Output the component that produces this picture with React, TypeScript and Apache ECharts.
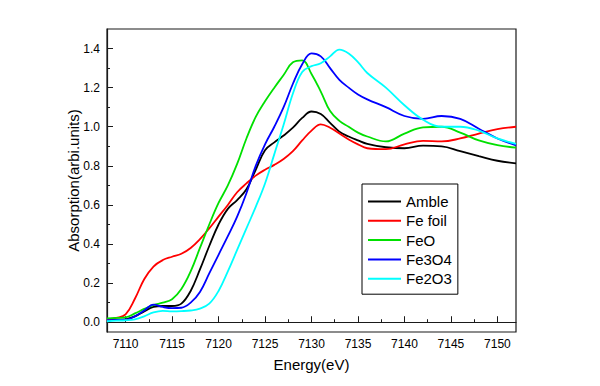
import React, { useEffect, useRef } from "react";
import * as echarts from "echarts";

const energies = [7108, 7109, 7110, 7111, 7112, 7113, 7114, 7115, 7116, 7117, 7118, 7119, 7120, 7121, 7122, 7123, 7124, 7125, 7126, 7127, 7128, 7129, 7130, 7131, 7132, 7133, 7134, 7135, 7136, 7138, 7140, 7142, 7144, 7146, 7148, 7150, 7152];

const amble = [0.01, 0.012, 0.015, 0.03, 0.055, 0.078, 0.083, 0.083, 0.095, 0.16, 0.27, 0.39, 0.5, 0.58, 0.625, 0.68, 0.78, 0.88, 0.92, 0.955, 0.995, 1.045, 1.078, 1.065, 1.02, 0.975, 0.95, 0.93, 0.912, 0.895, 0.89, 0.903, 0.9, 0.875, 0.85, 0.826, 0.813];
const feFoil = [0.015, 0.022, 0.04, 0.12, 0.22, 0.285, 0.318, 0.335, 0.35, 0.38, 0.425, 0.48, 0.54, 0.6, 0.665, 0.71, 0.75, 0.78, 0.805, 0.835, 0.875, 0.93, 0.98, 1.012, 0.995, 0.965, 0.935, 0.91, 0.89, 0.885, 0.91, 0.928, 0.925, 0.94, 0.965, 0.988, 1.0];
const feO = [0.02, 0.022, 0.025, 0.045, 0.068, 0.088, 0.1, 0.118, 0.17, 0.26, 0.38, 0.5, 0.61, 0.7, 0.81, 0.94, 1.05, 1.13, 1.2, 1.265, 1.33, 1.34, 1.27, 1.18, 1.08, 1.03, 1.0, 0.97, 0.95, 0.925, 0.965, 0.997, 1.0, 0.97, 0.93, 0.906, 0.893];
const fe3o4 = [0.01, 0.012, 0.013, 0.03, 0.06, 0.09, 0.078, 0.072, 0.074, 0.1, 0.155, 0.25, 0.345, 0.44, 0.54, 0.66, 0.8, 0.91, 1.0, 1.1, 1.22, 1.32, 1.375, 1.36, 1.3, 1.24, 1.2, 1.165, 1.14, 1.1, 1.055, 1.04, 1.055, 1.04, 0.99, 0.94, 0.905];
const fe2o3 = [0.005, 0.008, 0.01, 0.015, 0.03, 0.05, 0.058, 0.056, 0.057, 0.06, 0.07, 0.095, 0.16, 0.26, 0.37, 0.48, 0.59, 0.71, 0.86, 1.01, 1.17, 1.28, 1.31, 1.325, 1.36, 1.395, 1.375, 1.33, 1.275, 1.2, 1.11, 1.036, 1.0, 1.0, 0.98, 0.94, 0.912];

const seriesNames = ["Amble", "Fe foil", "FeO", "Fe3O4", "Fe2O3"];
const seriesValues = [amble, feFoil, feO, fe3o4, fe2o3];
const seriesColors = ["#000000", "#ff0000", "#00e000", "#0000ff", "#00ffff"];

const xMajorTicks = [7110, 7115, 7120, 7125, 7130, 7135, 7140, 7145, 7150];
const xMinorTicks = [7112.5, 7117.5, 7122.5, 7127.5, 7132.5, 7137.5, 7142.5, 7147.5];
const yMajorTicks = [0, 0.2, 0.4, 0.6, 0.8, 1.0, 1.2, 1.4];
const yMinorTicks = [0.1, 0.3, 0.5, 0.7, 0.9, 1.1, 1.3];

const FONT = "'Liberation Sans', Arial, sans-serif";

export default function App() {
  const ref = useRef<HTMLDivElement>(null);
  useEffect(() => {
    if (!ref.current) return;
    const chart = echarts.init(ref.current, null, { renderer: "svg" });
    const xMin = 7108, xMax = 7152, yMin = -0.05, yMax = 1.5;
    chart.setOption({
      animation: false,
      backgroundColor: "#ffffff",
      textStyle: { fontFamily: FONT },
      grid: {
        left: 107,
        right: 84,
        top: 29,
        bottom: 54,
        show: true,
        borderColor: "#1a1a1a",
        borderWidth: 1.2,
        backgroundColor: "transparent",
      },
      legend: {
        orient: "vertical",
        left: 362,
        top: 184,
        padding: [10, 6, 8, 5],
        itemWidth: 33,
        itemHeight: 14,
        itemGap: 4.3,
        borderColor: "#000",
        borderWidth: 1,
        backgroundColor: "#fff",
        data: seriesNames,
        itemStyle: { opacity: 0, borderWidth: 0 },
        textStyle: { fontSize: 15, color: "#000", fontFamily: FONT },
      },
      xAxis: [
        {
          type: "value",
          min: xMin,
          max: xMax,
          position: "bottom",
          name: "Energy(eV)",
          nameLocation: "middle",
          nameGap: 25,
          nameMoveOverlap: false,
          nameTextStyle: { fontSize: 15, color: "#000", fontFamily: FONT },
          axisLine: { show: true, lineStyle: { color: "#1a1a1a", width: 1.2 } },
          axisTick: { show: true, inside: true, length: 6, customValues: xMajorTicks, lineStyle: { color: "#1a1a1a" } },
          axisLabel: {
            show: true,
            customValues: xMajorTicks,
            fontSize: 12,
            color: "#000",
            margin: 6,
            fontFamily: FONT,
            formatter: (v: number) => String(v),
          },
          splitLine: { show: false },
        },
        {
          type: "value",
          min: xMin,
          max: xMax,
          position: "bottom",
          axisLine: { show: false },
          axisTick: { show: true, inside: true, length: 3, customValues: xMinorTicks, lineStyle: { color: "#1a1a1a" } },
          axisLabel: { show: false },
          splitLine: { show: false },
        },
      ],
      yAxis: [
        {
          type: "value",
          min: yMin,
          max: yMax,
          position: "left",
          name: "Absorption(arbi.units)",
          nameLocation: "middle",
          nameGap: 26,
          nameMoveOverlap: false,
          nameRotate: 90,
          nameTextStyle: { fontSize: 15, color: "#000", fontFamily: FONT },
          axisLine: { show: true, lineStyle: { color: "#1a1a1a", width: 1.2 } },
          axisTick: { show: true, inside: true, length: 6, customValues: yMajorTicks, lineStyle: { color: "#1a1a1a" } },
          axisLabel: {
            show: true,
            customValues: yMajorTicks,
            fontSize: 12,
            color: "#000",
            margin: 7,
            fontFamily: FONT,
            formatter: (v: number) => v.toFixed(1),
          },
          splitLine: { show: false },
        },
        {
          type: "value",
          min: yMin,
          max: yMax,
          position: "left",
          axisLine: { show: false },
          axisTick: { show: true, inside: true, length: 3, customValues: yMinorTicks, lineStyle: { color: "#1a1a1a" } },
          axisLabel: { show: false },
          splitLine: { show: false },
        },
      ],
      series: seriesNames.map((name, i) => ({
        name,
        type: "line",
        xAxisIndex: 0,
        yAxisIndex: 0,
        smooth: 0.4,
        symbol: "none",
        color: seriesColors[i],
        lineStyle: { width: 1.8, color: seriesColors[i] },
        data: energies.map((e, j) => [e, seriesValues[i][j]]),
      })),
    });
    return () => chart.dispose();
  }, []);
  return <div ref={ref} style={{ position: "absolute", left: 0, top: 0, width: 600, height: 386 }} />;
}
